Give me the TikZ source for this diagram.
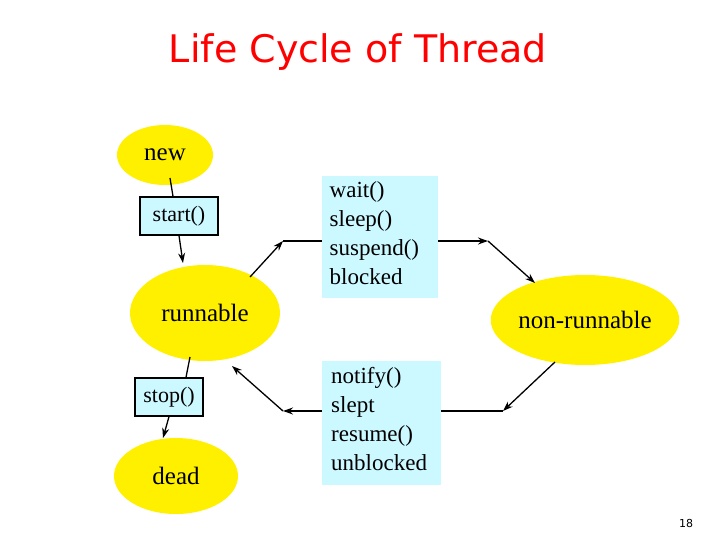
\documentclass[tikz,border=0pt]{standalone}
\usepackage{fontspec}
\setmainfont{Liberation Serif}
\newfontfamily\titlefont{DejaVu Sans}
\usetikzlibrary{arrows.meta,positioning,shapes.geometric}
\definecolor{stateyellow}{RGB}{255, 240, 0}
\definecolor{boxcyan}{RGB}{204, 248, 255}
\tikzstyle{state} = [
  ellipse,
  fill=stateyellow,
  inner sep=0pt,
  font=\fontsize{25}{29}\selectfont,
]
\tikzstyle{call} = [
  draw=black,
  line width=1.3pt,
  fill=boxcyan,
  font=\fontsize{22}{26}\selectfont,
]
\tikzstyle{event} = [
  fill=boxcyan,
  align=left,
  anchor=north west,
  inner sep=0pt,
  font=\fontsize{23}{29}\selectfont,
]
\tikzstyle{arrow} = [
  -{Stealth[length=10pt,width=7pt]},
  line width=1.3pt,
]

\begin{document}
\begin{tikzpicture}[x=1pt, y=-1pt]

        \useasboundingbox (0,0) rectangle (720,540);

        \node [text=red, font=\titlefont\fontsize{38}{44}\selectfont] (title) at (358,52) {Life Cycle of Thread};

        % States
        \node [state, minimum width=96pt, minimum height=60pt] (new) at (165,155) {new};
        \node [state, minimum width=150pt, minimum height=96pt] (runnable) at (205,313) {runnable};
        \node [state, minimum width=124pt, minimum height=76pt] (dead) at (176,476) {dead};
        \node [state, minimum width=174pt, minimum height=90pt] (nonrun) at (585,320) {non-runnable};

        % Calls
        \node [call, minimum width=78pt, minimum height=38pt] (start) at (179,216) {start()};
        \node [call, minimum width=68pt, minimum height=38pt] (stop) at (169,397) {stop()};

        % Events
        \node [event, minimum width=116pt, minimum height=122pt] (block) at (322,176)
              {\hspace{7pt}\parbox[t]{108pt}{\vspace{-9pt}wait()\\sleep()\\suspend()\\blocked}};
        \node [event, minimum width=119pt, minimum height=124pt] (unblock) at (322,361)
              {\hspace{7pt}\parbox[t]{108pt}{\vspace{-9pt}notify()\\slept\\resume()\\unblocked}};

        \coordinate (b1) at (283,241);
        \coordinate (b2) at (488,241);
        \coordinate (u1) at (503,411);
        \coordinate (u2) at (283,411);

        \draw [line width=1.3pt] (170,178) -- ([xshift=-6pt]start.north);
        \draw [arrow] (start.south) -- (183,263);
        \draw [line width=1.3pt] (190,357) -- ([xshift=17pt]stop.north);
        \draw [arrow] (stop.south) -- (163,438);

        % Blocking
        \draw [arrow] (250,277) -- (b1);
        \draw [line width=1.3pt] (b1) -- (block.west |- b1);
        \draw [arrow] (block.east |- b2) -- (b2);
        \draw [arrow] (b2) -- (535,283);

        % Unblocking
        \draw [arrow] (555,362) -- (u1);
        \draw [line width=1.3pt] (u1) -- (unblock.east |- u1);
        \draw [arrow] (unblock.west |- u2) -- (u2);
        \draw [arrow] (u2) -- (232,366);

        \node [font=\titlefont\fontsize{11}{13}\selectfont] (page) at (686,523) {18};
      \end{tikzpicture}
\end{document}
